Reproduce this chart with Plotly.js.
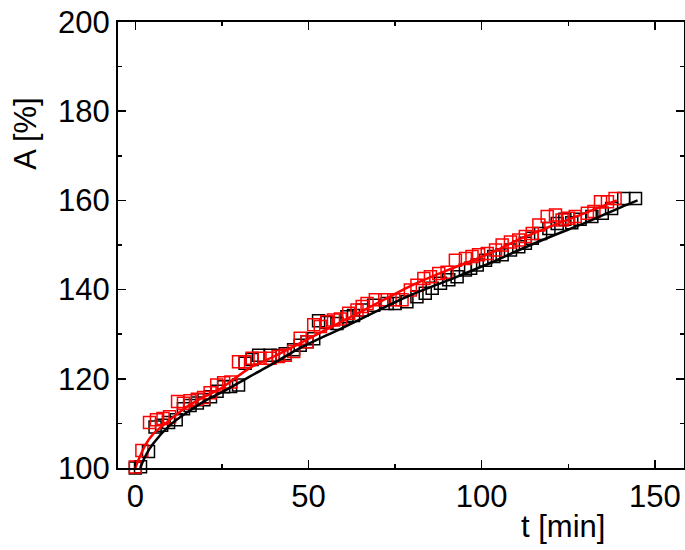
<!DOCTYPE html>
<html>
<head>
<meta charset="utf-8">
<script src="https://cdn.plot.ly/plotly-3.0.1.min.js"></script>
<style>
  body { margin: 0; background: #fff; }
  #chart { width: 685px; height: 550px; }
</style>
</head>
<body>
<div id="chart"></div>
<script>
// measured points, black series
var blackT = [0, 1.5, 3.8, 5.7, 7.6, 9.6, 11.8, 13.9, 15.8, 17.9, 19.8, 21.7, 23.6, 25.5, 27.5, 29.8,
  31.7, 33.7, 35.6, 38.9, 41.3, 43.3, 45.7, 47.6, 49.6, 51.5, 52.9, 55.3, 58.2, 61.1, 63, 65.5,
  68.8, 72.7, 75, 78.4, 81.3, 83.7, 85.7, 88.1, 90.5, 92.9, 95.3, 96.8, 98.7, 101.1, 103.5, 105.9,
  108.3, 110.7, 112.6, 114.6, 117, 119.4, 121.8, 124, 126, 128.4, 131.8, 134.8, 137.5, 141, 144.4];
var blackA = [100, 100.3, 103.7, 109.2, 109.6, 110.2, 110.8, 113.3, 114, 114.6, 115.3, 116, 117.2, 118.2, 118.3, 118.6,
  123.5, 124.3, 125.3, 125.3, 125.2, 125.6, 126.5, 127.5, 128.3, 129, 133, 132.6, 132.4, 133.9, 134.2, 135.4,
  136.5, 136.9, 136.9, 137.3, 138.4, 139.2, 140.3, 141.4, 142.2, 142.9, 144.4, 144.8, 145.5, 146.6, 147.4, 147.8,
  148.9, 149.6, 150.4, 151.5, 152.6, 153.7, 154.8, 155.8, 155, 155.8, 156.4, 157.1, 158.2, 160.4, 160.4];

// measured points, red series
var redT = [0, 1.9, 4.1, 6.1, 8, 9.9, 12.2, 13.9, 15.8, 17.9, 19.7, 21.6, 23.5, 25.5, 27.6, 29.8,
  31.7, 33.7, 36, 38.9, 41.3, 43.3, 45.7, 47.6, 49.6, 51.5, 53.4, 55.3, 57.2, 59.2, 61.6, 64,
  65.5, 66.9, 69.3, 72, 74.6, 77, 79.4, 81.3, 83.3, 85.2, 87.6, 90, 92.4, 95.3, 97.2, 99.1,
  101.6, 104, 105.9, 108.3, 110.7, 112.6, 114.6, 116.5, 118.9, 121.3, 123.2, 125.1, 127, 130.5,
  132.4, 134.3, 136.3, 138.5];
var redA = [100.2, 103.9, 110.2, 110.8, 111.1, 111.5, 114.9, 114.5, 115.1, 115.4, 115.8, 116.9, 118.6, 119.1, 119.3, 123.8,
  123.8, 124.6, 124.6, 124.6, 125, 125.3, 126.1, 129.1, 128.3, 132.1, 131.7, 132.8, 133.2, 133.4, 134.7, 135.4,
  136.2, 136.9, 137.7, 137.7, 137.7, 137.7, 139.9, 141, 142.5, 142.9, 143.6, 143.9, 146.6, 147, 147.4, 147.8,
  148.1, 148.9, 150, 150.7, 151.1, 151.9, 152.6, 154.5, 156.4, 156.7, 155.6, 156, 156.4, 157.1,
  157.5, 159.7, 159.7, 160.4];

// fitted curves
var blackFitT = [1.4, 3, 5, 10, 15, 20, 25, 33, 40, 46.6, 60, 70, 78.4, 90, 103.5, 110, 120, 130, 140, 145];
var blackFitA = [100, 102.8, 105.3, 109.6, 112.5, 115, 117, 120.5, 123.5, 126.5, 131.5, 135.3, 138.4, 142, 146.3, 148.6, 151.9, 155, 158.4, 160];
var redFitT = [0, 1.3, 3, 5, 10, 15, 20, 25, 33, 40, 46.6, 60, 70, 80, 90, 103.5, 110, 120, 130, 139];
var redFitA = [100, 102.5, 105.3, 107.5, 110.8, 113.8, 116, 118, 122.4, 125, 127.6, 133, 137, 141, 144.3, 148.5, 151, 154.2, 157.2, 160];

var xTicks = [0, 50, 100, 150];
var yTicks = [100, 120, 140, 160, 180, 200];

var font = 'Liberation Sans, Arial, sans-serif';

var traces = [
  {
    x: blackT, y: blackA, mode: 'markers', type: 'scatter',
    marker: { symbol: 'square-open', size: 12, color: '#000', line: { width: 1.5 } },
    cliponaxis: false
  },
  {
    x: redT, y: redA, mode: 'markers', type: 'scatter',
    marker: { symbol: 'square-open', size: 12, color: '#ff0000', line: { width: 1.5 } },
    cliponaxis: false
  },
  {
    x: blackFitT, y: blackFitA, mode: 'lines', type: 'scatter',
    line: { color: '#000', width: 2.5, shape: 'spline' }
  },
  {
    x: redFitT, y: redFitA, mode: 'lines', type: 'scatter',
    line: { color: '#ff0000', width: 2.5, shape: 'spline' }
  }
];

var axisCommon = {
  showgrid: false, zeroline: false,
  showline: true, linecolor: '#000', linewidth: 2, mirror: 'ticks',
  ticks: 'inside', ticklen: 8, tickwidth: 1.5, tickcolor: '#000',
  tickfont: { family: font, size: 31, color: '#000' }
};

var layout = {
  width: 685, height: 550,
  margin: { l: 118, r: 1, t: 22, b: 82 },
  paper_bgcolor: '#fff', plot_bgcolor: '#fff',
  showlegend: false,
  xaxis: Object.assign({}, axisCommon, {
    range: [-5, 158.4], tickvals: xTicks, ticklabelstandoff: 0,
    minor: { ticks: 'inside', ticklen: 4, tickwidth: 1.5, dtick: 25, tick0: 0, tickcolor: '#000' }
  }),
  yaxis: Object.assign({}, axisCommon, {
    range: [100, 200], tickvals: yTicks,
    minor: { ticks: 'inside', ticklen: 4, tickwidth: 1.5, dtick: 10, tick0: 0, tickcolor: '#000' }
  }),
  annotations: [
    {
      text: 't [min]', xref: 'paper', yref: 'paper', x: 0.786, y: -0.132,
      xanchor: 'center', yanchor: 'middle',
      showarrow: false, font: { family: font, size: 31, color: '#000' }
    },
    {
      text: 'A [%]', xref: 'paper', yref: 'paper', x: -0.163, y: 0.749, textangle: -90,
      xanchor: 'center', yanchor: 'middle',
      showarrow: false, font: { family: font, size: 31, color: '#000' }
    }
  ]
};

Plotly.newPlot('chart', traces, layout, { displayModeBar: false, staticPlot: true });
</script>
</body>
</html>
